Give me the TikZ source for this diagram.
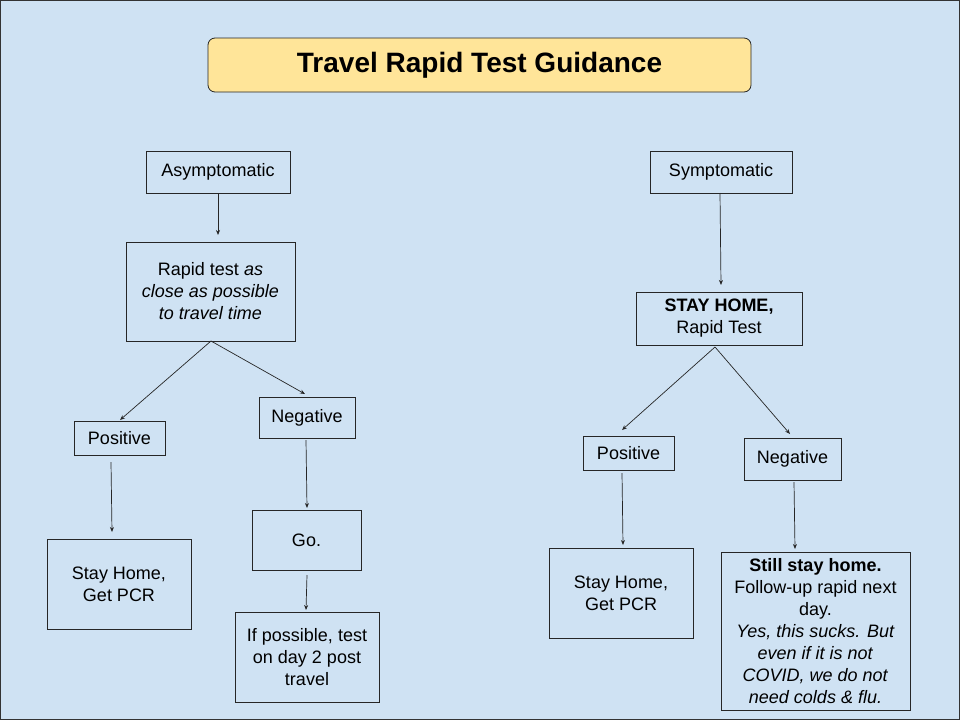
\documentclass[tikz,border=0pt]{standalone}
\usepackage{fontspec}
\usetikzlibrary{arrows.meta}
\setmainfont{Liberation Sans}
\begin{document}
\begin{tikzpicture}[x=1pt,y=-1pt,
  box/.style={draw=black!85,line width=0.8pt,align=center,font=\fontsize{18}{22}\selectfont,inner sep=0pt},
  arr/.style={-{Stealth[length=5pt,width=4pt]},line width=0.7pt,black!85}]
\definecolor{bg}{HTML}{CFE2F3}
\definecolor{ttl}{HTML}{FFE599}
\fill[bg] (0,0) rectangle (960,720);
\draw[black!80,line width=1.2pt] (0.6,0.6) rectangle (959.4,719.4);
\useasboundingbox (0,0) rectangle (960,720);
\newcommand\bx[6]{\node[box,minimum width=#4-#2,minimum height=#5-#3] (#1) at ({(#2+#4)/2},{(#3+#5)/2}) {#6};}
\node[draw=black!85,line width=0.8pt,fill=ttl,rounded corners=7pt,minimum width=543,minimum height=54,font=\fontsize{28}{30}\selectfont\bfseries] (title) at (479.5,65) {\raisebox{-2pt}{Travel Rapid Test Guidance}};
\bx{asym}{146}{151}{290}{193}{Asymptomatic}
\bx{rapid}{126}{242}{295}{341}{Rapid test \textit{as}\\\textit{close as possible}\\\textit{to travel time}}
\bx{posl}{74}{421}{165}{455}{Positive}
\bx{negl}{259}{397}{355}{438}{Negative}
\bx{shl}{47}{539}{191}{629}{Stay Home,\\Get PCR}
\bx{go}{252}{510}{361}{570}{Go.}
\bx{ifp}{235}{612}{379}{702}{If possible, test\\on day 2 post\\travel}
\bx{sym}{650}{151}{792}{193}{Symptomatic}
\bx{stay}{636}{292}{802}{345}{\textbf{STAY HOME,}\\Rapid Test}
\bx{posr}{583}{436}{674}{470}{Positive}
\bx{negr}{744}{438}{841}{480}{Negative}
\bx{shr}{549}{548}{693}{638}{Stay Home,\\Get PCR}
\bx{still}{721}{552}{910}{710}{\textbf{Still stay home.}\\Follow-up rapid next\\day.\\\textit{Yes, this sucks. But}\\\textit{even if it is not}\\\textit{COVID, we do not}\\\textit{need colds \& flu.}}
\coordinate (a1) at (218,235); \draw[arr] (asym.south -| a1) -- (a1);
\coordinate (a2) at (120,420); \coordinate (a3) at (305,394);
\draw[arr] (211,341) -- (a2); \draw[arr] (211,341) -- (a3);
\coordinate (a4) at (112,532); \draw[arr] (111,462) -- (a4);
\coordinate (a5) at (307,508); \draw[arr] (306,440) -- (a5);
\coordinate (a6) at (306,610); \draw[arr] (307,575) -- (a6);
\coordinate (a7) at (721,285); \draw[arr] (720,193) -- (a7);
\coordinate (a8) at (622,430); \coordinate (a9) at (790,434);
\draw[arr] (715,347) -- (a8); \draw[arr] (715,347) -- (a9);
\coordinate (a10) at (623,545); \draw[arr] (622,473) -- (a10);
\coordinate (a11) at (795,549); \draw[arr] (794,482) -- (a11);
\end{tikzpicture}
\end{document}
